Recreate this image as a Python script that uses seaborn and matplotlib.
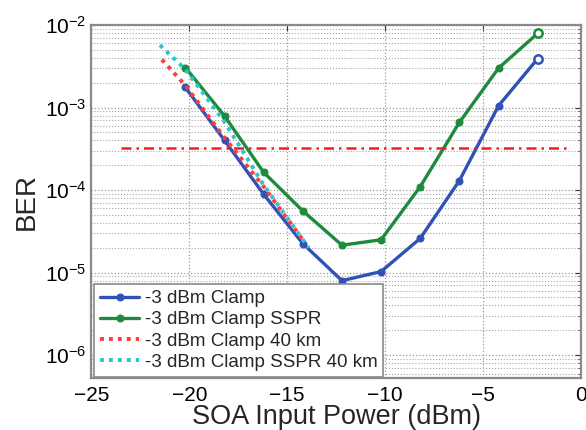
import numpy as np
import pandas as pd
import matplotlib
matplotlib.use("Agg")
import matplotlib.pyplot as plt
import seaborn as sns

# measured curves (x in dBm, BER)
power = [-20.2, -18.2, -16.2, -14.2, -12.2, -10.2, -8.2, -6.2, -4.2, -2.2]
ber_clamp = [1.75e-3, 4.0e-4, 8.9e-5, 2.25e-5, 8.0e-6, 1.03e-5, 2.6e-5, 1.3e-4, 1.05e-3, 3.9e-3]
ber_sspr = [3.05e-3, 7.9e-4, 1.64e-4, 5.6e-5, 2.15e-5, 2.5e-5, 1.1e-4, 6.6e-4, 3.0e-3, 7.9e-3]

# 40 km fits
power_40 = [-21.4, -20.2, -18.2, -16.2, -14.2]
ber_clamp_40 = [3.8e-3, 1.85e-3, 4.3e-4, 1.1e-4, 2.5e-5]
power_sspr_40 = [-21.5, -20.2, -18.2, -16.2, -13.9]
ber_sspr_40 = [5.7e-3, 2.9e-3, 6.7e-4, 1.15e-4, 2.0e-5]

# FEC threshold
thr_x = [-23.5, -0.75]
thr_y = [3.2e-4, 3.2e-4]

labels = ['-3 dBm Clamp', '-3 dBm Clamp SSPR', '-3 dBm Clamp 40 km', '-3 dBm Clamp SSPR 40 km']
blue, green, red, cyan = '#2f52b4', '#1f8a3c', '#ff3b3b', '#2cc4cc'

sns.set_style('white')
plt.rcParams['font.family'] = ['Liberation Sans', 'DejaVu Sans']
plt.rcParams['mathtext.default'] = 'regular'

fig = plt.figure(figsize=(5.86, 4.30), dpi=100)
ax = fig.add_axes([0.156, 0.121, 0.835, 0.821])

sns.lineplot(x=power, y=ber_clamp, ax=ax, color=blue, lw=2.4, marker='o', ms=5,
             mec=blue, label=labels[0])
sns.lineplot(x=power, y=ber_sspr, ax=ax, color=green, lw=2.4, marker='o', ms=5,
             mec=green, label=labels[1])
sns.lineplot(x=power_40, y=ber_clamp_40, ax=ax, color=red, lw=2.8,
             linestyle=(0, (1, 1.3)), label=labels[2])
sns.lineplot(x=power_sspr_40, y=ber_sspr_40, ax=ax, color=cyan, lw=2.8,
             linestyle=(0, (1, 1.3)), label=labels[3])
sns.lineplot(x=thr_x, y=thr_y, ax=ax, color='#f02020', lw=1.8,
             linestyle=(0, (4, 2, 1, 2)), legend=False)

# open markers on the last points
ax.plot(power[-1], ber_clamp[-1], 'o', ms=6, mfc='white', mec=blue, mew=1.8)
ax.plot(power[-1], ber_sspr[-1], 'o', ms=6, mfc='white', mec=green, mew=1.8)

ax.set_yscale('log')
ax.set_xlim(-25, 0)
ax.set_ylim(5.3e-7, 1e-2)
ax.set_xticks([-25, -20, -15, -10, -5, 0])
ax.set_yticks([1e-6, 1e-5, 1e-4, 1e-3, 1e-2])

ax.grid(True, which='major', axis='both', linestyle=':', color='#9a9a9a', lw=0.9)
ax.grid(True, which='minor', axis='y', linestyle=':', color='#a8a8a8', lw=0.8)
ax.tick_params(which='both', direction='in', top=True, right=True, labelsize=15, colors='#333333')
ax.tick_params(which='major', length=4)
ax.tick_params(which='minor', length=2)
ax.tick_params(axis='x', pad=6)
for sp in ax.spines.values():
    sp.set_color('#8a8a8a')
    sp.set_linewidth(1.6)
for lab in ax.get_xticklabels() + ax.get_yticklabels():
    lab.set_color('black')

ax.set_xlabel('SOA Input Power (dBm)', fontsize=19.5)
ax.xaxis.set_label_coords(0.5, -0.074)
ax.set_ylabel('BER', fontsize=20, labelpad=4)

leg = ax.legend(loc='lower left', bbox_to_anchor=(0.006, 0.004), fontsize=13.5,
                frameon=True, fancybox=False, framealpha=1, edgecolor='#8a8a8a',
                handlelength=2.1, handletextpad=0.3, labelspacing=0.22,
                borderpad=0.3, borderaxespad=0)
leg.get_frame().set_linewidth(1.2)

fig.savefig('out.png', dpi=100)
